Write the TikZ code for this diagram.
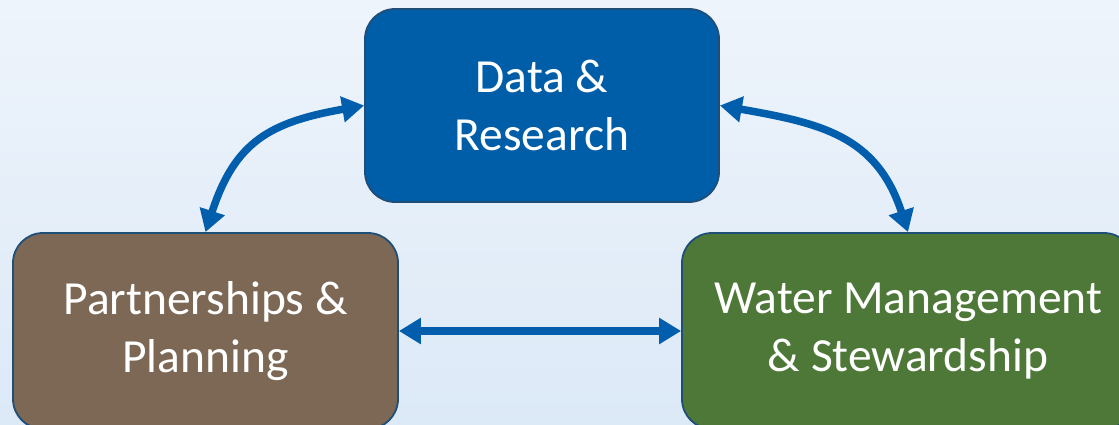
\documentclass[tikz,border=0pt]{standalone}
\usepackage{fontspec}
\setmainfont{Carlito}
\usetikzlibrary{arrows.meta}
\definecolor{bgtop}{HTML}{EEF4FB}
\definecolor{bgbot}{HTML}{DCE9F7}
\definecolor{topfill}{HTML}{005DA8}
\definecolor{brownfill}{HTML}{7C6854}
\definecolor{greenfill}{HTML}{4E7838}
\definecolor{edgeblue}{HTML}{1F4E79}
\definecolor{arrowblue}{HTML}{005EAC}
\tikzset{
  box/.style={draw=edgeblue, line width=1.8pt, rounded corners=30pt, text=white,
    align=center, inner sep=0pt, font=\fontsize{47.5}{58}\selectfont},
  link/.style={draw=arrowblue, line width=7.5pt,
    {Triangle[length=22pt,width=25pt]}-{Triangle[length=22pt,width=25pt]}}
}
\begin{document}
\begin{tikzpicture}[x=1pt,y=1pt]
\useasboundingbox (0,0) rectangle (1119,424);
\shade[top color=bgtop, bottom color=bgbot] (0,0) rectangle (1119,424);
\begin{scope}
\clip (0,0) rectangle (1119,424);
\node[box, fill=topfill, minimum width=354pt, minimum height=193pt] (T) at (542,318.5) {Data \&\\Research};
\node[box, fill=brownfill, minimum width=385pt, minimum height=196pt] (L) at (205.5,93) {Partnerships \&\\Planning};
\node[box, fill=greenfill, minimum width=452pt, minimum height=196pt] (R) at (908,93) {Water Management\\\& Stewardship};
\draw[link] (T.west) to[out=190,in=72,looseness=1.2] (L.north);
\draw[link] (T.east) to[out=-10,in=108,looseness=1.15] (R.north);
\draw[link] (L.east) -- (R.west);
\end{scope}
\end{tikzpicture}
\end{document}
